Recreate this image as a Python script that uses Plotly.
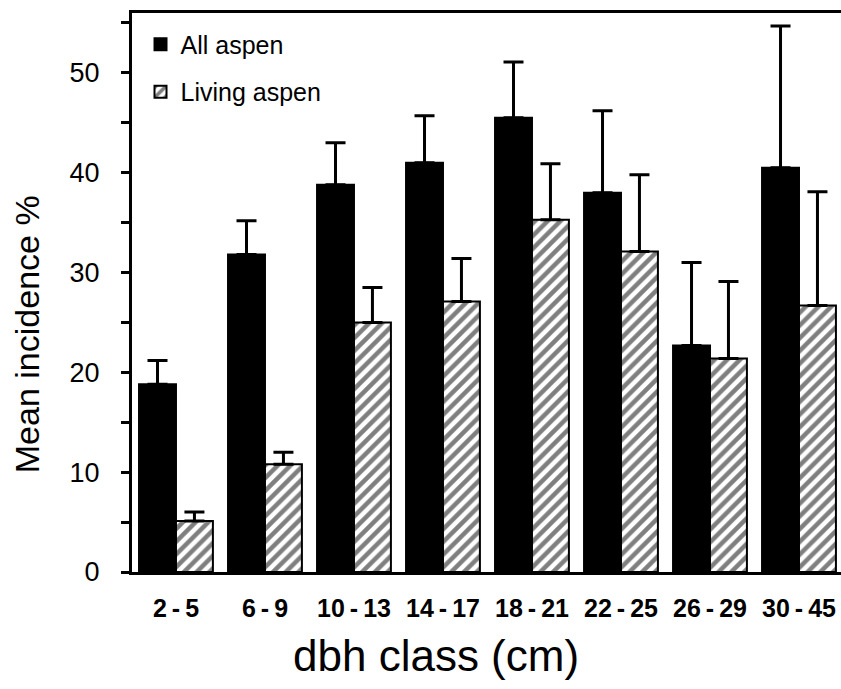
import plotly.graph_objects as go

SEP = "\u2009-\u2009"
categories = ["2" + SEP + "5", "6" + SEP + "9", "10" + SEP + "13", "14" + SEP + "17",
              "18" + SEP + "21", "22" + SEP + "25", "26" + SEP + "29", "30" + SEP + "45"]
all_aspen = [18.8, 31.8, 38.8, 41.0, 45.5, 38.0, 22.7, 40.5]
all_aspen_err = [2.4, 3.4, 4.2, 4.7, 5.6, 8.2, 8.3, 14.2]
living_aspen = [5.1, 10.8, 25.0, 27.1, 35.3, 32.1, 21.4, 26.7]
living_aspen_err = [0.9, 1.2, 3.5, 4.3, 5.6, 7.7, 7.7, 11.4]

FONT = "Liberation Sans, Arial, Helvetica, sans-serif"
zeros = [0] * len(categories)

fig = go.Figure()
fig.add_trace(go.Bar(
    x=categories, y=all_aspen, name="All aspen", legendgroup="a",
    marker=dict(color="black", line=dict(color="black", width=2)),
    error_y=dict(type="data", symmetric=False, array=all_aspen_err, arrayminus=zeros,
                 color="black", thickness=3, width=10),
))
fig.add_trace(go.Bar(
    x=categories, y=living_aspen, name="Living aspen", legendgroup="b",
    marker=dict(color="white", line=dict(color="black", width=2),
                pattern=dict(shape="/", fgcolor="black", bgcolor="white", size=9, solidity=0.5)),
    error_y=dict(type="data", symmetric=False, array=living_aspen_err, arrayminus=zeros,
                 color="black", thickness=3, width=10),
))

fig.update_layout(
    width=841, height=689,
    margin=dict(l=132, r=0, t=13, b=117),
    paper_bgcolor="white", plot_bgcolor="white",
    barmode="group", bargap=0.17, bargroupgap=0,
    font=dict(family=FONT, color="black"),
    showlegend=True,
    legend=dict(x=0.012, y=0.985, xanchor="left", yanchor="top",
                font=dict(size=25, family=FONT, color="black"),
                bgcolor="rgba(0,0,0,0)", traceorder="grouped", tracegroupgap=12),
    xaxis=dict(
        range=[-0.494, 7.472], showgrid=False, zeroline=False, automargin=False,
        showline=True, linecolor="black", linewidth=3, mirror=True,
        ticks="", tickfont=dict(size=25, family=FONT, color="black", weight="bold"),
        ticklabelstandoff=12,
    ),
    yaxis=dict(
        range=[0, 56], showgrid=False, zeroline=False, automargin=False,
        showline=True, linecolor="black", linewidth=3,
        tickmode="linear", tick0=0, dtick=10,
        ticks="outside", ticklen=8, tickwidth=3, tickcolor="black",
        minor=dict(dtick=5, tick0=0, ticks="outside", ticklen=8, tickwidth=3, tickcolor="black"),
        tickfont=dict(size=27, family=FONT, color="black"),
        ticklabelstandoff=16,
    ),
    annotations=[
        dict(text="Mean incidence %", textangle=-90, xref="paper", yref="paper",
             x=-0.147, y=0.425, xanchor="center", yanchor="middle", showarrow=False,
             font=dict(size=34, family=FONT, color="black")),
        dict(text="dbh class (cm)", xref="paper", yref="paper",
             x=0.4288, y=-0.1485, xanchor="center", yanchor="middle", showarrow=False,
             font=dict(size=44, family=FONT, color="black")),
    ],
)

fig.write_html("out.html", config={"displayModeBar": False},
               post_script="document.body.style.margin='0';document.body.style.overflow='hidden';")
